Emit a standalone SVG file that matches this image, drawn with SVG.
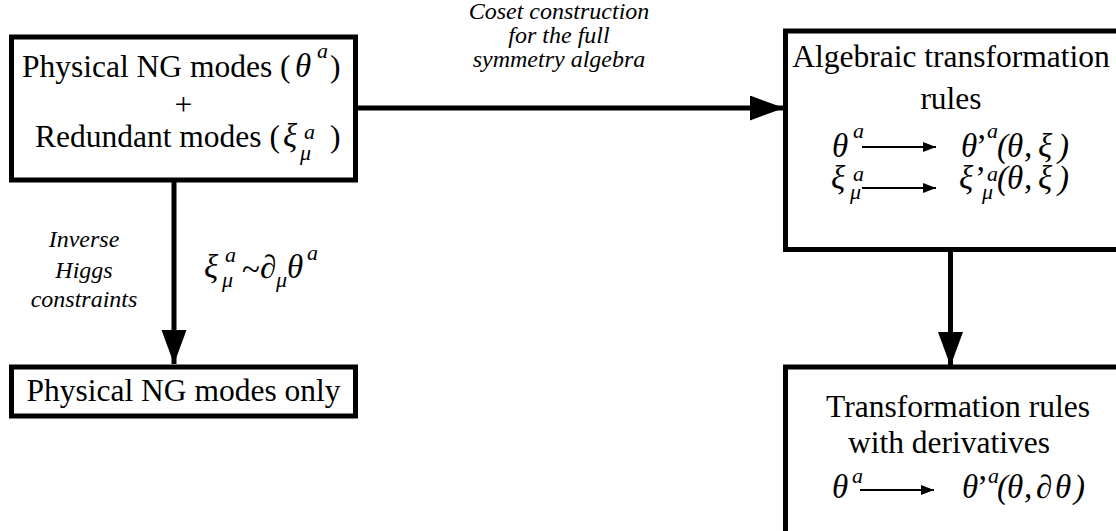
<svg xmlns="http://www.w3.org/2000/svg" width="1116" height="531" viewBox="0 0 1116 531">
<style>
.box{fill:#fff;stroke:#000;stroke-width:5}
.t{font-family:"Liberation Serif","Times New Roman",serif;font-size:31.5px;fill:#000}
.m{font-family:"Liberation Serif","Times New Roman",serif;font-size:33px;font-style:italic;fill:#000}
.s{font-size:22px}
.p{font-style:normal}
.lbl{font-family:"Liberation Serif","Times New Roman",serif;font-size:24px;font-style:italic;fill:#000;text-anchor:middle}
.c{stroke:#000;stroke-width:5;fill:none}
.sa{stroke:#000;stroke-width:2;fill:none}
</style>
<defs>
<marker id="big" markerUnits="userSpaceOnUse" markerWidth="36" markerHeight="26" refX="34" refY="12.5" orient="auto">
<path d="M0,0 L34,12.5 L0,25 z" fill="#000"/>
</marker>
<marker id="small" markerUnits="userSpaceOnUse" markerWidth="14" markerHeight="12" refX="13" refY="5" orient="auto">
<path d="M0,0 L13,5 L0,10 z" fill="#000"/>
</marker>
</defs>
<rect width="1116" height="531" fill="#fff"/>

<g id="connectors">
<line class="c" x1="358" y1="108" x2="784" y2="108" marker-end="url(#big)"/>
<line class="c" x1="174" y1="182" x2="174" y2="364" marker-end="url(#big)"/>
<line class="c" x1="950.5" y1="252" x2="950.5" y2="366" marker-end="url(#big)"/>
<text class="lbl" x="559" y="19">Coset construction</text>
<text class="lbl" x="559" y="43">for the full</text>
<text class="lbl" x="559" y="67">symmetry algebra</text>
<text class="lbl" x="84" y="247">Inverse</text>
<text class="lbl" x="84" y="278">Higgs</text>
<text class="lbl" x="84" y="307">constraints</text>
<text class="m"><tspan x="204" y="278">ξ</tspan><tspan class="s" x="225" y="262">a</tspan><tspan class="s" x="222" y="287">μ</tspan><tspan class="p" x="242" y="280">~</tspan><tspan x="260" y="278">∂</tspan><tspan class="s" x="276" y="287">μ</tspan><tspan x="287" y="278">θ</tspan><tspan class="s" x="307" y="260">a</tspan></text>
</g>

<g id="node-physical-redundant">
<rect class="box" x="11.5" y="37" width="344" height="143"/>
<text class="t"><tspan x="22" y="77">Physical NG modes (</tspan><tspan class="m" x="295" y="77">θ</tspan><tspan class="m s" x="317" y="58">a</tspan><tspan x="330" y="77">)</tspan></text>
<text class="t" x="183.5" y="115" text-anchor="middle">+</text>
<text class="t"><tspan x="35" y="147">Redundant modes (</tspan><tspan class="m" x="283" y="147">ξ</tspan><tspan class="m s" x="304" y="139">a</tspan><tspan class="m s" x="300" y="160">μ</tspan><tspan x="330" y="147">)</tspan></text>
</g>

<g id="node-physical-only">
<rect class="box" x="11.5" y="367" width="344" height="49"/>
<text class="t" x="183.5" y="401" text-anchor="middle">Physical NG modes only</text>
</g>

<g id="node-algebraic">
<rect class="box" x="785.5" y="31" width="340" height="218.5"/>
<text class="t" x="951" y="67" text-anchor="middle">Algebraic transformation</text>
<text class="t" x="951" y="109" text-anchor="middle">rules</text>
<text class="m"><tspan x="832" y="157">θ</tspan><tspan class="s" x="853" y="138">a</tspan><tspan x="961" y="157">θ</tspan><tspan class="p" x="976" y="157">’</tspan><tspan class="s" x="987" y="138">a</tspan><tspan x="997" y="157">(</tspan><tspan x="1007" y="157">θ</tspan><tspan x="1024" y="157">,</tspan><tspan x="1038" y="157">ξ</tspan><tspan x="1058" y="157">)</tspan></text>
<line class="sa" x1="862" y1="147" x2="936" y2="147" marker-end="url(#small)"/>
<text class="m"><tspan x="831" y="189">ξ</tspan><tspan class="s" x="853" y="181">a</tspan><tspan class="s" x="850" y="199">μ</tspan><tspan x="959" y="189">ξ</tspan><tspan class="p" x="975" y="189">’</tspan><tspan class="s" x="987" y="181">a</tspan><tspan class="s" x="982" y="199">μ</tspan><tspan x="997" y="189">(</tspan><tspan x="1007" y="189">θ</tspan><tspan x="1024" y="189">,</tspan><tspan x="1038" y="189">ξ</tspan><tspan x="1058" y="189">)</tspan></text>
<line class="sa" x1="862" y1="188" x2="936" y2="188" marker-end="url(#small)"/>
</g>

<g id="node-derivatives">
<rect class="box" x="785.5" y="367" width="340" height="180"/>
<text class="t" x="958" y="417" text-anchor="middle">Transformation rules</text>
<text class="t" x="949" y="453" text-anchor="middle">with derivatives</text>
<text class="m"><tspan x="832" y="498">θ</tspan><tspan class="s" x="852" y="483">a</tspan><tspan x="962" y="498">θ</tspan><tspan class="p" x="977" y="498">’</tspan><tspan class="s" x="988" y="483">a</tspan><tspan x="997" y="498">(</tspan><tspan x="1007" y="498">θ</tspan><tspan x="1024" y="498">,</tspan><tspan x="1036" y="498">∂</tspan><tspan x="1055" y="498">θ</tspan><tspan x="1074" y="498">)</tspan></text>
<line class="sa" x1="860" y1="490" x2="934" y2="490" marker-end="url(#small)"/>
</g>
</svg>
